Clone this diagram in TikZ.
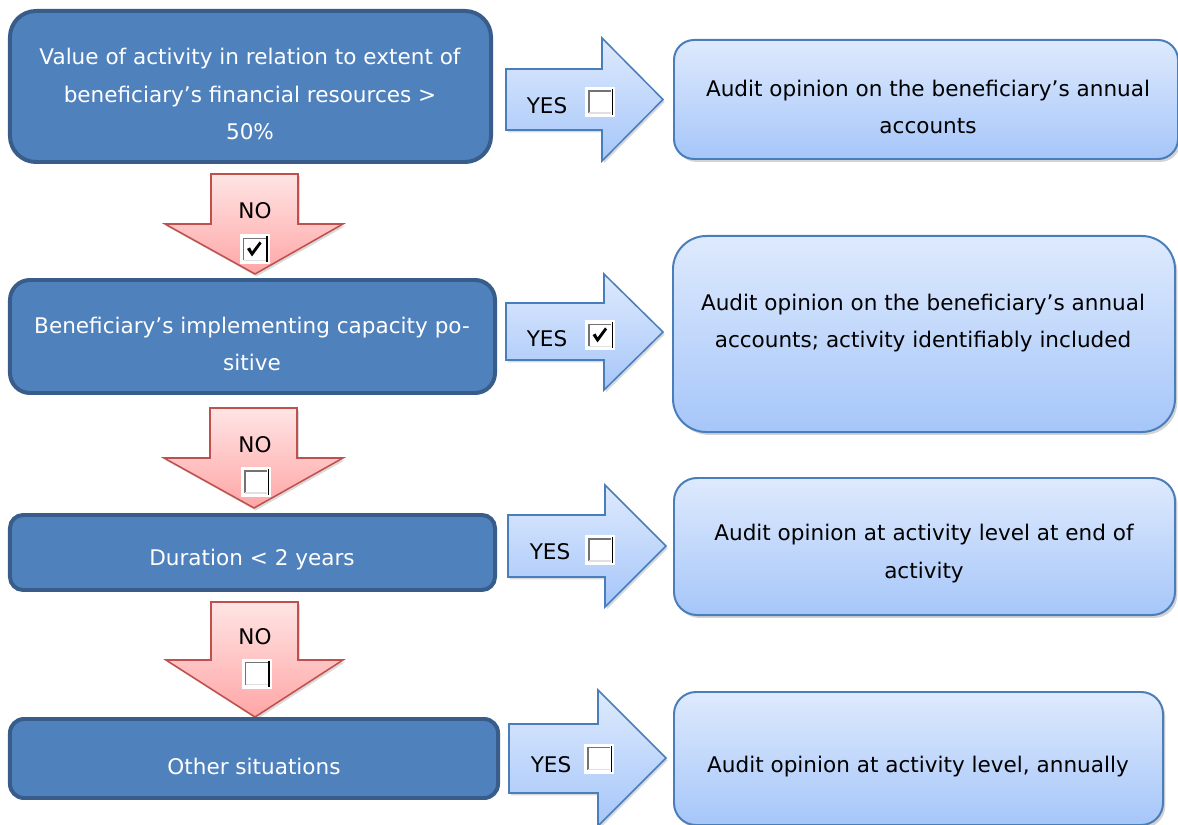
\documentclass[tikz,border=0pt]{standalone}
\usepackage{fontspec}
\setmainfont{DejaVu Sans}
\usetikzlibrary{shadows}

\definecolor{qfill}{RGB}{79,129,189}
\definecolor{qline}{RGB}{56,93,138}
\definecolor{rtop}{RGB}{222,234,253}
\definecolor{rbot}{RGB}{166,198,249}
\definecolor{rline}{RGB}{74,126,187}
\definecolor{ntop}{RGB}{255,228,228}
\definecolor{nbot}{RGB}{255,166,166}
\definecolor{nline}{RGB}{192,80,77}

\tikzset{
  question/.style={draw=qline, fill=qfill, line width=3.4pt},
  qtext/.style={text=white, align=center},
  result/.style={draw=rline, top color=rtop, bottom color=rbot, line width=1.7pt,
    drop shadow={shadow xshift=2pt, shadow yshift=-2.5pt, opacity=.35}},
  rtext/.style={align=center},
  yesarrow/.style={draw=rline, top color=rtop, bottom color=rbot, line width=1.3pt,
    drop shadow={shadow xshift=1.5pt, shadow yshift=-2pt, opacity=.3}},
  noarrow/.style={draw=nline, top color=ntop, bottom color=nbot, line width=1.3pt,
    drop shadow={shadow xshift=1.5pt, shadow yshift=-2pt, opacity=.3}},
  chk/.pic={
    \fill[white] (-15,-15) rectangle (15,15);
    \draw[black!55, line width=1.6pt] (-11,11) -- (-11,-11) -- (11,-11);
    \draw[black!12, line width=1.6pt] (-11,11) -- (11,11);
    \draw[black, line width=1pt] (12.5,-13) -- (12.5,13);
  },
  chkon/.pic={
    \pic {chk};
    \fill (-7.5,-0.5) -- (-4.5,-2) -- (-2.5,2) -- (5,-8) -- (7,-6) -- (-2.5,7) -- cycle;
  }
}

\begin{document}
\begin{tikzpicture}[x=0.03cm,y=-0.03cm,font=\fontsize{18.4}{32.3}\selectfont]
  \useasboundingbox (0,0) rectangle (1178,825);

  % NO arrows
  \draw[noarrow] (211,174) -- (298,174) -- (298,224) -- (343,224) -- (255,274) -- (165,224) -- (211,224) -- cycle;
  \node (no1) at (255,211) {NO};
  \pic at (254.5,249.5) {chkon};

  \draw[noarrow] (210,408) -- (297,408) -- (297,458) -- (343,458) -- (254,508) -- (164,458) -- (210,458) -- cycle;
  \node (no2) at (255,445) {NO};
  \pic at (256,482) {chk};

  \draw[noarrow] (211,602) -- (298,602) -- (298,660) -- (343,660) -- (255,717) -- (166,660) -- (211,660) -- cycle;
  \node (no3) at (255,637) {NO};
  \pic at (256.5,673.5) {chk};

  % questions
  \node[question, minimum width=14.43cm, minimum height=4.53cm, rounded corners=0.78cm] (q1) at (250.5,86.5) {};
  \node[qtext] (q1t) at (250,94) {Value of activity in relation to extent of\\beneficiary’s financial resources >\\50\%};
  \node[question, minimum width=14.55cm, minimum height=3.39cm, rounded corners=0.6cm] (q2) at (252.5,336.5) {};
  \node[qtext] (q2t) at (252,344) {Beneficiary’s implementing capacity po-\\sitive};
  \node[question, minimum width=14.55cm, minimum height=2.25cm, rounded corners=0.39cm] (q3) at (252.5,552.5) {};
  \node[qtext] (q3t) at (252,560) {Duration < 2 years};
  \node[question, minimum width=14.64cm, minimum height=2.37cm, rounded corners=0.42cm] (q4) at (254,758.5) {};
  \node[qtext] (q4t) at (254,766) {Other situations};

  % YES arrows
  \draw[yesarrow] (506,69) -- (602,69) -- (602,38) -- (663,99.5) -- (602,161) -- (602,130) -- (506,130) -- cycle;
  \node (yes1) at (547,105.5) {YES};
  \pic at (600,102) {chk};

  \draw[yesarrow] (506,303) -- (604,303) -- (604,274) -- (663,332) -- (604,390) -- (604,360) -- (506,360) -- cycle;
  \node (yes2) at (547,339) {YES};
  \pic at (600,335.5) {chkon};

  \draw[yesarrow] (508,515) -- (605,515) -- (605,485) -- (666,546) -- (605,607) -- (605,577) -- (508,577) -- cycle;
  \node (yes3) at (550,552) {YES};
  \pic at (600,550) {chk};

  \draw[yesarrow] (509,724) -- (598,724) -- (598,690) -- (666,758) -- (598,826) -- (598,793) -- (509,793) -- cycle;
  \node (yes4) at (551,765) {YES};
  \pic at (599,758.5) {chk};

  % results
  \node[result, minimum width=15.12cm, minimum height=3.57cm, rounded corners=0.6cm] (r1) at (926,99.5) {};
  \node[rtext] (r1t) at (928,107) {Audit opinion on the beneficiary’s annual\\accounts};
  \node[result, minimum width=15.06cm, minimum height=5.88cm, rounded corners=1cm] (r2) at (924,334) {};
  \node[rtext] (r2t) at (923,323) {Audit opinion on the beneficiary’s annual\\accounts; activity identifiably included};
  \node[result, minimum width=15.03cm, minimum height=4.11cm, rounded corners=0.69cm] (r3) at (924.5,546.5) {};
  \node[rtext] (r3t) at (924,553.5) {Audit opinion at activity level at end of\\activity};
  \node[result, minimum width=14.67cm, minimum height=3.99cm, rounded corners=0.66cm] (r4) at (918.5,758.5) {};
  \node[rtext] (r4t) at (918,767) {Audit opinion at activity level, annually};
\end{tikzpicture}
\end{document}
